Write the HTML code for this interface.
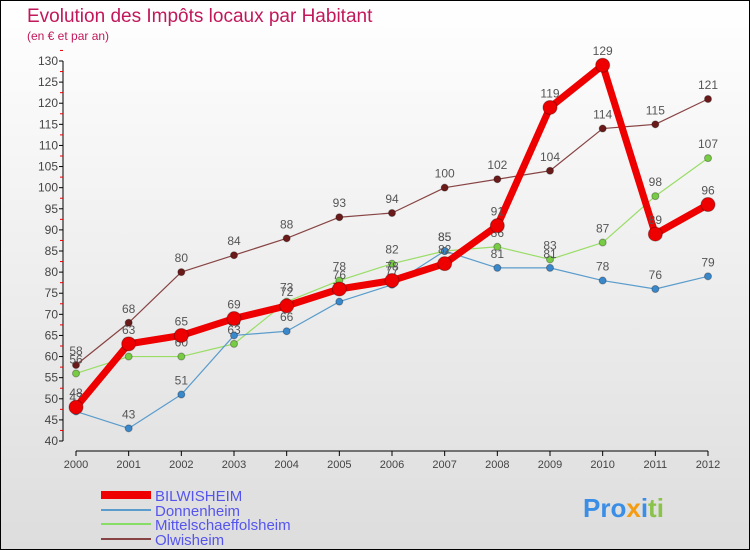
<!DOCTYPE html>
<html><head><meta charset="utf-8"><style>
body{margin:0}
#c{width:748px;height:548px;border:1px solid #000;background:linear-gradient(#fff,#ddd);position:relative;font-family:"Liberation Sans",sans-serif;overflow:hidden}
</style></head><body>
<div id="c">
<svg id="s" width="748" height="548" style="position:absolute;left:0;top:0">
<text x="26" y="21" font-size="19" fill="#c2185b">Evolution des Impôts locaux par Habitant</text>
<text x="26" y="39" font-size="12" fill="#c2185b">(en € et par an)</text>
<g id="ax"></g><g id="series"></g>
<g>
<line x1="100" y1="494" x2="150" y2="494" stroke="#e00" stroke-width="8"/>
<text x="154" y="500" font-size="15" fill="#5555ee">BILWISHEIM</text>
<line x1="100" y1="509" x2="150" y2="509" stroke="#5a9ccc" stroke-width="2"/>
<text x="154" y="515" font-size="15" fill="#5555ee">Donnenheim</text>
<line x1="100" y1="523" x2="150" y2="523" stroke="#88dd66" stroke-width="2"/>
<text x="154" y="529" font-size="15" fill="#5555ee">Mittelschaeffolsheim</text>
<line x1="100" y1="538" x2="150" y2="538" stroke="#884444" stroke-width="2"/>
<text x="154" y="544" font-size="15" fill="#5555ee">Olwisheim</text>
</g>
<text x="582" y="516" font-size="26" font-weight="bold"><tspan fill="#3a8ee6">Pro</tspan><tspan fill="#f39c12">x</tspan><tspan fill="#3a8ee6">i</tspan><tspan fill="#8bc34a">ti</tspan></text>
</svg>
</div>
<script>
const years=[2000,2001,2002,2003,2004,2005,2006,2007,2008,2009,2010,2011,2012];
const yTicks=[40,45,50,55,60,65,70,75,80,85,90,95,100,105,110,115,120,125,130];
const bilwisheim=[48,63,65,69,72,76,78,82,91,119,129,89,96];
const donnenheim=[47,43,51,65,66,73,77,85,81,81,78,76,79];
const mittelschaeffolsheim=[56,60,60,63,73,78,82,85,86,83,87,98,107];
const olwisheim=[58,68,80,84,88,93,94,100,102,104,114,115,121];
const NS="http://www.w3.org/2000/svg";
const X=i=>75+i*(632/12), Y=v=>440-(v-40)*(380/90);
function mk(t,a,p){const e=document.createElementNS(NS,t);for(const k in a)e.setAttribute(k,a[k]);p.appendChild(e);return e;}
const ax=document.getElementById('ax');
const yl=mk('line',{x1:62,y1:Y(130),x2:62,y2:440,stroke:'#000'},ax);


const xl=mk('line',{x1:75,y1:450,x2:707,y2:450,stroke:'#000'},ax);


yTicks.forEach(v=>{
 mk('line',{x1:58,y1:Y(v),x2:62,y2:Y(v),stroke:'#000'},ax);
 mk('line',{x1:59,y1:Y(v+2.5),x2:62,y2:Y(v+2.5),stroke:'#e00'},ax);
 const t=mk('text',{x:57,y:Y(v)+4,'font-size':12,'text-anchor':'end',fill:'#444'},ax);t.textContent=v;
 
 
});
years.forEach((y,i)=>{
 mk('line',{x1:X(i),y1:450,x2:X(i),y2:455,stroke:'#000'},ax);
 const t=mk('text',{x:X(i),y:467,'font-size':11,'text-anchor':'middle',fill:'#444'},ax);t.textContent=y;
 
 
});
const sg=document.getElementById('series');
function draw(name,d,col,w,r,dot){
 const g=mk('g',{},sg);
 
 
 mk('polyline',{points:d.map((v,i)=>X(i)+','+Y(v)).join(' '),fill:'none',stroke:col,'stroke-width':w,'stroke-linejoin':'round'},g);
 d.forEach((v,i)=>{
  const c=mk('circle',{cx:X(i),cy:Y(v),r:r,fill:dot,stroke:'rgba(0,0,0,0.3)'},g);
  
  
  const t=mk('text',{x:X(i),y:Y(v)-10,'font-size':12,'text-anchor':'middle',fill:'#555'},g);t.textContent=v;
 });
}
draw('olwisheim',olwisheim,'#884444',1.2,3.5,'#6b1a1a');
draw('mittelschaeffolsheim',mittelschaeffolsheim,'#99dd66',1.2,3.5,'#77cc44');
draw('donnenheim',donnenheim,'#5a9ccc',1.2,3.5,'#3a88cc');
draw('bilwisheim',bilwisheim,'#ee0000',7,7,'#ee0000');
</script>
</body></html>
